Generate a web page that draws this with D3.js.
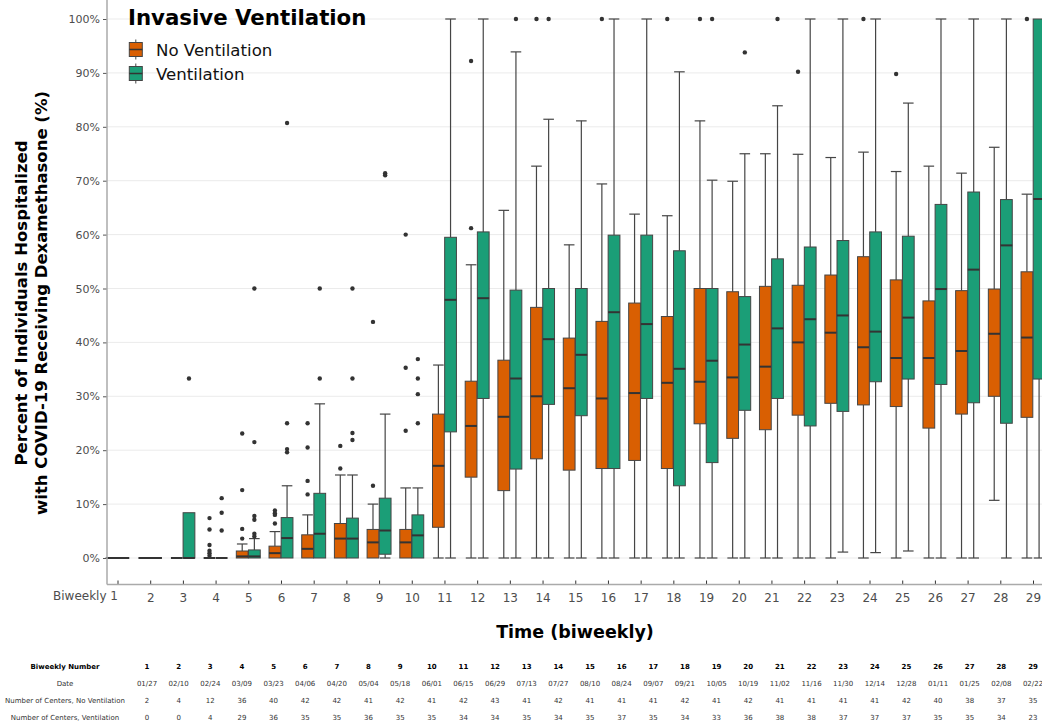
<!DOCTYPE html>
<html>
<head>
<meta charset="utf-8">
<script src="https://cdn.jsdelivr.net/npm/d3@7"></script>
<style>
  html, body { margin: 0; padding: 0; background: #fff; overflow: hidden; }
  svg { display: block; font-family: "DejaVu Sans", sans-serif; }
</style>
</head>
<body>
<svg id="chart" width="1042" height="727"></svg>
<script>
// ---------- DATA ----------
const biweeks = d3.range(1, 30);
const dates = ["01/27","02/10","02/24","03/09","03/23","04/06","04/20","05/04","05/18","06/01","06/15","06/29","07/13","07/27","08/10","08/24","09/07","09/21","10/05","10/19","11/02","11/16","11/30","12/14","12/28","01/11","01/25","02/08","02/22"];
const centersNoVent = [2,4,12,36,40,42,42,41,42,41,42,43,41,42,41,41,41,42,41,42,41,41,41,41,42,40,38,37,35];
const centersVent   = [0,0,4,29,36,35,35,36,35,35,34,34,35,34,35,37,35,34,33,36,38,38,37,37,37,35,35,34,23];

// No Ventilation box statistics (percent)
const noVentLow  = [0,0,0,0,0,0,0,0,0,0,0,0,0,0,0,0,0,0,0,0,0,0,0,0,0,0,0,10.7,0];
const noVentQ1   = [0,0,0,0,0,0,0,0,0,0,5.7,15.0,12.5,18.4,16.3,16.6,18.1,16.6,24.9,22.2,23.8,26.5,28.7,28.4,28.1,24.1,26.7,30.0,26.1];
const noVentMed  = [0,0,0,0,0.3,0.9,1.7,3.6,2.9,2.9,17.1,24.5,26.2,30.0,31.5,29.6,30.6,32.5,32.7,33.5,35.5,40.0,41.8,39.1,37.1,37.1,38.4,41.6,40.9];
const noVentQ3   = [0,0,0,0,1.3,2.2,4.3,6.4,5.3,5.3,26.7,32.8,36.7,46.5,40.8,43.9,47.3,44.8,50.0,49.4,50.4,50.6,52.5,55.9,51.6,47.7,49.6,49.9,53.1];
const noVentHigh = [0,0,0,0,2.6,4.9,8.0,15.4,10.0,13.0,35.8,54.4,64.5,72.7,58.1,69.4,63.8,63.5,81.1,69.9,75.0,74.9,74.3,75.3,71.7,72.7,71.4,76.2,67.5];
const noVentOut  = [[],[],[],[7.4,5.3,2.4,1.35,0.87,0.43],[23.1,12.6,5.4,3.6],[8.8,8.3,8.0,6.4],[25.0,20.5,14.3,11.8],[20.8,16.6],[13.4,43.8],[23.6,35.3,60.0],
  [],[61.2,92.2],[],[100],[],[100],[],[100],[100],[],[],[90.2],[],[100],[89.8],[],[],[],[100]];

// Ventilation box statistics (percent); null = no centres
const ventLow  = [null,null,0,0,0,0,0,0,0,0,0,0,0,0,0,0,0,0,0,0,0,0,1.1,1.0,1.3,0,0,0,0];
const ventQ1   = [null,null,0,0,0,0,0,0,0.7,0,23.4,29.6,16.5,28.5,26.4,16.6,29.6,13.4,17.7,27.4,29.6,24.5,27.2,32.7,33.2,32.2,28.8,25.0,33.2];
const ventMed  = [null,null,0,0,0.3,3.7,4.5,3.6,5.1,4.2,47.9,48.2,33.3,40.6,37.7,45.6,43.4,35.1,36.6,39.6,42.6,44.3,45.0,42.0,44.6,49.9,53.5,58.0,66.6];
const ventQ3   = [null,null,8.4,0,1.5,7.5,12.0,7.4,11.1,8.0,59.5,60.5,49.7,50.0,50.0,59.9,59.9,57.0,50.0,48.5,55.5,57.7,58.9,60.5,59.7,65.6,67.9,66.5,100];
const ventHigh = [null,null,8.4,0,3.6,13.4,28.6,15.4,26.7,13.0,100,100,93.9,81.4,81.1,100,100,90.2,70.1,75.0,83.9,100,100,100,84.4,100,100,100,100];
const ventOut  = [[],[],[33.3],[11.1,8.4,5.1],[50,21.5,7.8,7.1,4.5,4.0],[80.7,25.0,20.2,19.6],[50,33.3],[50,33.3,23.2,21.9],[71.4,71.0],[36.9,33.3,30.4,25.0],
  [],[],[100],[100],[],[],[],[],[100],[93.8],[100],[],[],[],[],[],[],[],[]];

const yTicks = d3.range(0, 101, 10);
const groups = ["No Ventilation", "Ventilation"];
const colors = ["#d95f02", "#1b9e77"];

// ---------- LAYOUT ----------
const svg = d3.select("#chart");
const x = d3.scaleLinear().domain([1, 29]).range([117.5, 1033]);
const y = d3.scaleLinear().domain([0, 100]).range([558, 19]);
const step = x(2) - x(1);
const panelLeft = 107, panelBottom = 584.5, panelRight = 1060;

// gridlines
svg.append("g").selectAll("line").data(yTicks).join("line")
  .attr("x1", panelLeft).attr("x2", panelRight)
  .attr("y1", d => y(d)).attr("y2", d => y(d))
  .attr("stroke", "#ebebeb").attr("stroke-width", 1);

// ---------- BOXES ----------
function series(i, low, q1, med, q3, high, out) {
  return { low: low[i], q1: q1[i], med: med[i], q3: q3[i], high: high[i], out: out[i] };
}
const boxes = [];
biweeks.forEach((b, i) => {
  const nv = series(i, noVentLow, noVentQ1, noVentMed, noVentQ3, noVentHigh, noVentOut);
  const v = series(i, ventLow, ventQ1, ventMed, ventQ3, ventHigh, ventOut);
  const single = v.med === null;
  const bw = step * 0.36;
  if (single) {
    boxes.push(Object.assign({ b, g: 0, cx: x(b), w: step * 0.72 }, nv));
  } else {
    boxes.push(Object.assign({ b, g: 0, cx: x(b) - step * 0.186, w: bw }, nv));
    boxes.push(Object.assign({ b, g: 1, cx: x(b) + step * 0.186, w: bw }, v));
  }
});

const gBox = svg.append("g");
const edge = "#454545";
boxes.forEach(d => {
  const g = gBox.append("g");
  const capW = d.w * 0.9;
  if (d.high > d.q3) {
    g.append("line").attr("x1", d.cx).attr("x2", d.cx).attr("y1", y(d.q3)).attr("y2", y(d.high))
      .attr("stroke", edge).attr("stroke-width", 1.2);
    g.append("line").attr("x1", d.cx - capW / 2).attr("x2", d.cx + capW / 2).attr("y1", y(d.high)).attr("y2", y(d.high))
      .attr("stroke", edge).attr("stroke-width", 1.2);
  }
  if (d.q1 > d.low) {
    g.append("line").attr("x1", d.cx).attr("x2", d.cx).attr("y1", y(d.q1)).attr("y2", y(d.low))
      .attr("stroke", edge).attr("stroke-width", 1.2);
    g.append("line").attr("x1", d.cx - capW / 2).attr("x2", d.cx + capW / 2).attr("y1", y(d.low)).attr("y2", y(d.low))
      .attr("stroke", edge).attr("stroke-width", 1.2);
  }
  if (d.q3 > d.q1) {
    g.append("rect").attr("x", d.cx - d.w / 2).attr("width", d.w)
      .attr("y", y(d.q3)).attr("height", y(d.q1) - y(d.q3))
      .attr("fill", colors[d.g]).attr("stroke", edge).attr("stroke-width", 1);
  }
  g.append("line").attr("x1", d.cx - d.w / 2).attr("x2", d.cx + d.w / 2)
    .attr("y1", y(d.med)).attr("y2", y(d.med))
    .attr("stroke", "#333").attr("stroke-width", 2);
  g.selectAll("circle").data(d.out).join("circle")
    .attr("cx", d.cx).attr("cy", v => y(v)).attr("r", 2.2).attr("fill", "#333");
});

// ---------- AXES ----------
const yAxis = svg.append("g").attr("transform", `translate(${panelLeft},0)`)
  .call(d3.axisLeft(y).tickValues(yTicks).tickFormat(d => d + "%").tickSize(4).tickPadding(3));
yAxis.select(".domain").remove();
yAxis.selectAll("line").attr("stroke", "#555");
yAxis.selectAll("text").attr("fill", "#4d4d4d").style("font-size", "11px").style("font-family", "DejaVu Sans");

svg.append("line").attr("x1", panelLeft).attr("x2", panelLeft).attr("y1", 0).attr("y2", panelBottom)
  .attr("stroke", "#aaa").attr("stroke-width", 1.5);

const xAxis = svg.append("g").attr("transform", `translate(0,${panelBottom})`)
  .call(d3.axisBottom(x).tickValues(biweeks).tickFormat(d => d === 1 ? "" : d).tickSize(-4).tickPadding(9));
xAxis.select(".domain").remove();
xAxis.selectAll("line").attr("stroke", "#333");
xAxis.selectAll("text").attr("fill", "#4d4d4d").style("font-size", "12px").style("font-family", "DejaVu Sans");
svg.append("line").attr("x1", panelLeft).attr("x2", panelRight).attr("y1", panelBottom).attr("y2", panelBottom)
  .attr("stroke", "#aaa").attr("stroke-width", 1.5);
svg.append("text").attr("x", x(1) + 0.5).attr("y", 599.5).attr("text-anchor", "end")
  .attr("fill", "#4d4d4d").style("font-size", "12px").text("Biweekly 1");

// axis titles
const yt = svg.append("text").attr("transform", "translate(0,303) rotate(-90)")
  .attr("text-anchor", "middle").style("font-size", "16.5px").style("font-weight", "bold").attr("fill", "#000");
yt.append("tspan").attr("x", 0).attr("y", 27).text("Percent of Individuals Hospitalized");
yt.append("tspan").attr("x", 0).attr("y", 47).text("with COVID-19 Receiving Dexamethasone (%)");

svg.append("text").attr("x", 575).attr("y", 638).attr("text-anchor", "middle")
  .style("font-size", "17.5px").style("font-weight", "bold").text("Time (biweekly)");

// ---------- LEGEND ----------
const lg = svg.append("g");
lg.append("text").attr("x", 128).attr("y", 25).style("font-size", "21.3px").style("font-weight", "bold").text("Invasive Ventilation");
groups.forEach((name, i) => {
  const cy = 49.5 + i * 24;
  const gx = 135.8;
  lg.append("line").attr("x1", gx).attr("x2", gx).attr("y1", cy - 10).attr("y2", cy + 10).attr("stroke", edge).attr("stroke-width", 1);
  lg.append("rect").attr("x", gx - 6.5).attr("y", cy - 7).attr("width", 13).attr("height", 14)
    .attr("fill", colors[i]).attr("stroke", edge).attr("stroke-width", 1);
  lg.append("line").attr("x1", gx - 6.5).attr("x2", gx + 6.5).attr("y1", cy).attr("y2", cy).attr("stroke", "#333").attr("stroke-width", 1.5);
  lg.append("text").attr("x", 156).attr("y", cy + 6).style("font-size", "16.6px").attr("fill", "#111").text(name);
});

// ---------- TABLE ----------
const tx = d3.scaleLinear().domain([1, 29]).range([147, 1033]);
const rows = [
  { label: "Biweekly Number", vals: biweeks, bold: true, y: 668.5 },
  { label: "Date", vals: dates, bold: false, y: 685.5 },
  { label: "Number of Centers, No Ventilation", vals: centersNoVent, bold: false, y: 703 },
  { label: "Number of Centers, Ventilation", vals: centersVent, bold: false, y: 720 }
];
const tg = svg.append("g").style("font-size", "7px");
rows.forEach(r => {
  tg.append("text").attr("x", 65).attr("y", r.y).attr("text-anchor", "middle")
    .style("font-weight", r.bold ? "bold" : "normal").attr("fill", r.bold ? "#000" : "#333").text(r.label);
  tg.append("g").selectAll("text").data(r.vals).join("text")
    .attr("x", (d, i) => tx(i + 1)).attr("y", r.y).attr("text-anchor", "middle")
    .style("font-weight", r.bold ? "bold" : "normal").attr("fill", r.bold ? "#000" : "#333").text(d => d);
});
</script>
</body>
</html>
